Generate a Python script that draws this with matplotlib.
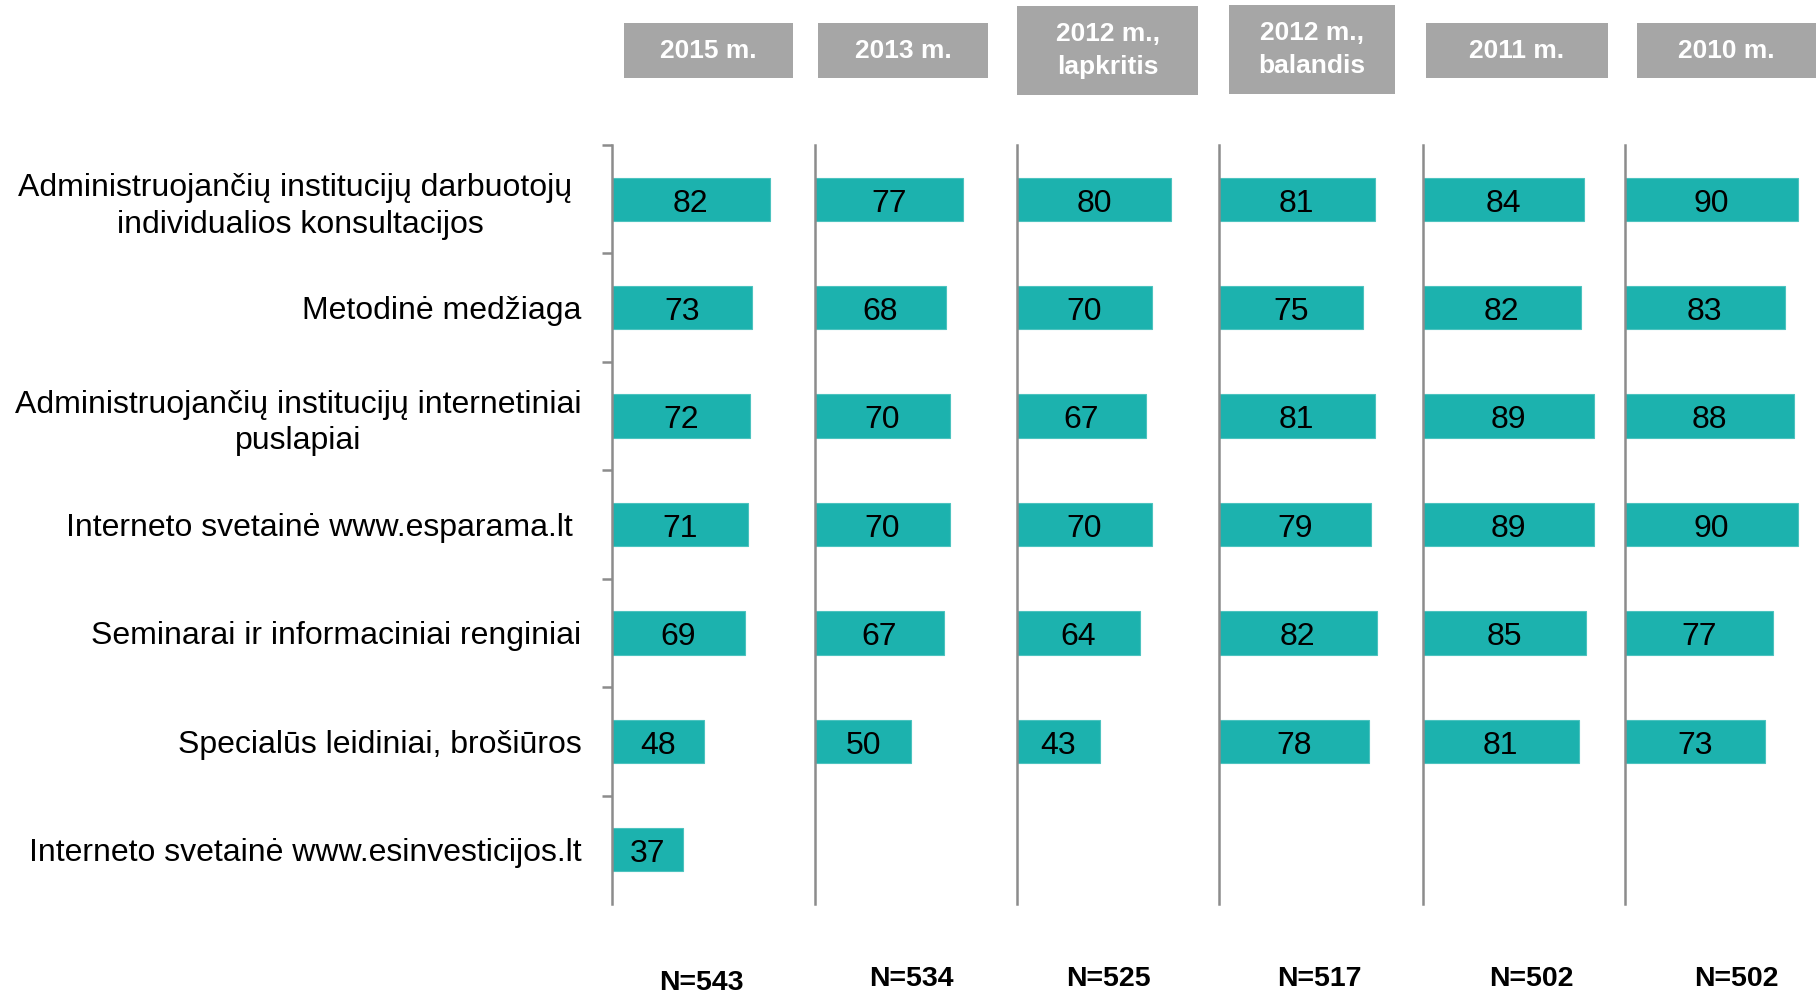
import matplotlib.pyplot as plt
import matplotlib.patches as patches
from matplotlib import font_manager

categories = [
    "Administruojančių institucijų darbuotojų \nindividualios konsultacijos",
    "Metodinė medžiaga",
    "Administruojančių institucijų internetiniai\npuslapiai",
    "Interneto svetainė www.esparama.lt ",
    "Seminarai ir informaciniai renginiai",
    "Specialūs leidiniai, brošiūros",
    "Interneto svetainė www.esinvesticijos.lt",
]
periods = ["2015 m.", "2013 m.", "2012 m.,\nlapkritis", "2012 m.,\nbalandis", "2011 m.", "2010 m."]
sample_sizes = ["N=543", "N=534", "N=525", "N=517", "N=502", "N=502"]

v2015 = [82, 73, 72, 71, 69, 48, 37]
v2013 = [77, 68, 70, 70, 67, 50, None]
v2012_nov = [80, 70, 67, 70, 64, 43, None]
v2012_apr = [81, 75, 81, 79, 82, 78, None]
v2011 = [84, 82, 89, 89, 85, 81, None]
v2010 = [90, 83, 88, 90, 77, 73, None]
series = [v2015, v2013, v2012_nov, v2012_apr, v2011, v2010]

names = {f.name for f in font_manager.fontManager.ttflist}
main_font = "Liberation Sans Narrow" if "Liberation Sans Narrow" in names else "Liberation Sans"
plt.rcParams["font.family"] = [main_font, "DejaVu Sans"]

W, H = 1818, 994
fig = plt.figure(figsize=(W / 100, H / 100), dpi=100)

teal = "#1cb2ae"
grey_axis = "#8c8c8c"
header_grey = "#a6a6a6"

# panel geometry in pixels
panel_left = [612, 815, 1017, 1219, 1423, 1625]
px_per_unit = 1.922
ax_top, ax_bot = 145, 904

# header boxes (x0, x1, y0, y1) in pixels
header_boxes = [
    (624, 793, 23, 78),
    (818, 988, 23, 78),
    (1017, 1198, 6, 95),
    (1229, 1395, 5, 94),
    (1426, 1608, 23, 78),
    (1637, 1816, 23, 78),
]
n_x = [701, 911, 1108, 1319, 1531, 1736]
n_y = [983, 979, 979, 979, 979, 979]

ypos = list(range(len(categories)))

for i, vals in enumerate(series):
    left = panel_left[i]
    right = panel_left[i + 1] if i + 1 < len(panel_left) else W
    width = right - left
    ax = fig.add_axes([left / W, 1 - ax_bot / H, width / W, (ax_bot - ax_top) / H])
    ax.set_xlim(0, width / px_per_unit)
    ax.set_ylim(len(categories) - 0.5, -0.5)
    for s in ["top", "right", "bottom"]:
        ax.spines[s].set_visible(False)
    ax.spines["left"].set_color(grey_axis)
    ax.spines["left"].set_linewidth(1.8)
    ax.set_xticks([])

    ys = [y for y, v in zip(ypos, vals) if v is not None]
    vs = [v for v in vals if v is not None]
    ax.barh(ys, vs, height=0.4, color=teal, edgecolor="#4cc3bf", linewidth=0.8)
    for y, v in zip(ys, vs):
        ax.text(v / 2, y + 0.04, str(v), ha="center", va="center", fontsize=23, color="black")

    if i == 0:
        ax.set_yticks(ypos)
        ax.set_yticklabels(categories, fontsize=23, linespacing=1.3)
        for lab in ax.get_yticklabels():
            lab.set_multialignment("center")
        ax.tick_params(axis="y", which="major", length=0, pad=22)
        ax.set_yticks([y - 0.5 for y in ypos], minor=True)
        ax.tick_params(axis="y", which="minor", length=7, width=1.8, color=grey_axis)
    else:
        ax.set_yticks([])

    x0, x1, y0, y1 = header_boxes[i]
    fig.patches.append(patches.Rectangle((x0 / W, 1 - y1 / H), (x1 - x0) / W, (y1 - y0) / H,
                                         transform=fig.transFigure, facecolor=header_grey,
                                         edgecolor="none"))
    fig.text((x0 + x1) / 2 / W, 1 - (y0 + y1) / 2 / H, periods[i], ha="center", va="center",
             fontsize=19, fontweight="bold", color="white", linespacing=1.45)

    fig.text(n_x[i] / W, 1 - n_y[i] / H, sample_sizes[i], ha="center", va="center",
             fontsize=20.5, fontweight="bold", color="black")

fig.savefig("out.png", dpi=100)
